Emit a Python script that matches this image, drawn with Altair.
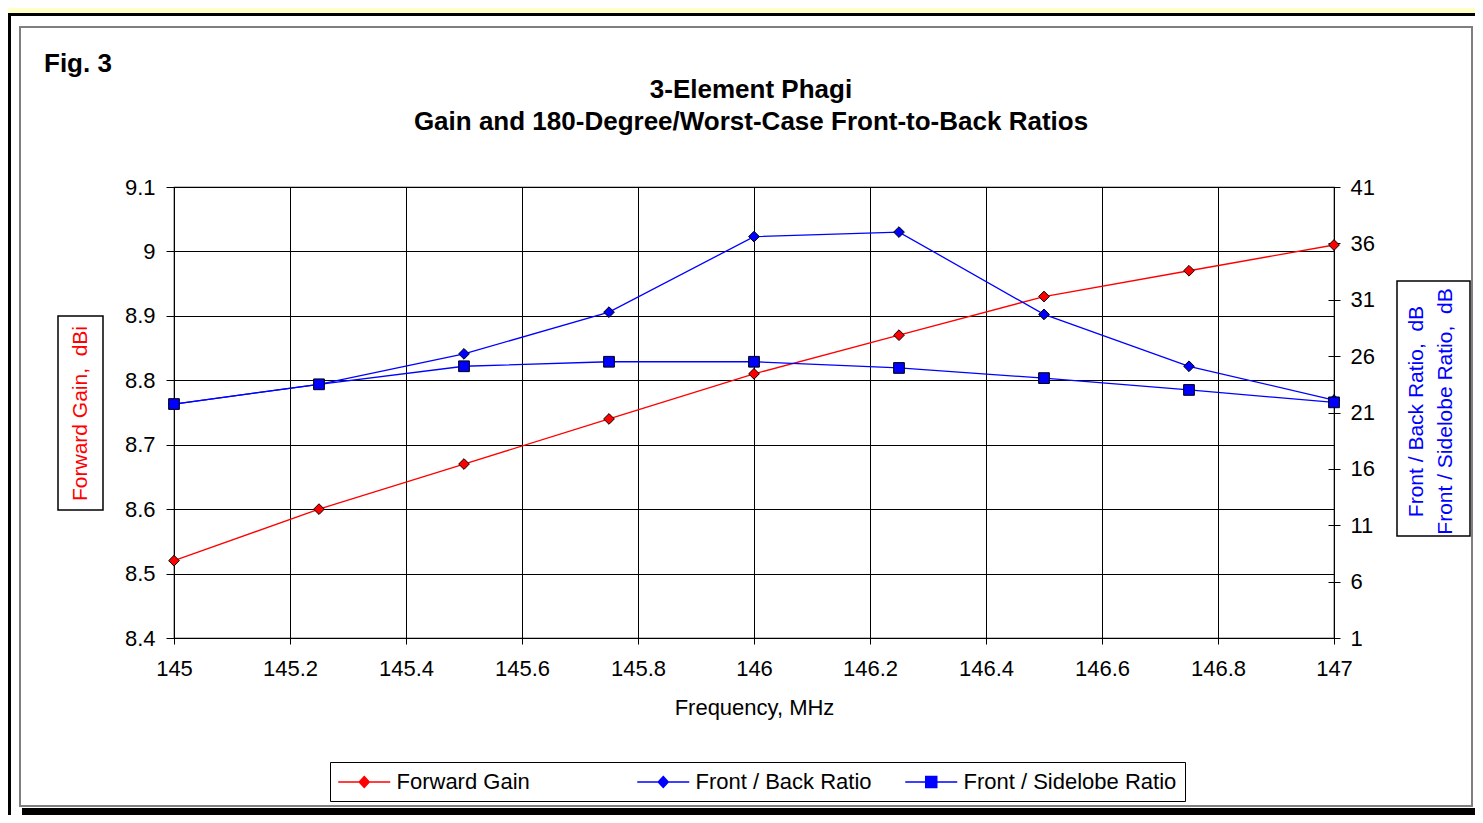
import altair as alt
import pandas as pd

# ---------------- data ----------------
freq = [145.0, 145.25, 145.5, 145.75, 146.0, 146.25, 146.5, 146.75, 147.0]
forward_gain = [8.52, 8.60, 8.67, 8.74, 8.81, 8.87, 8.93, 8.97, 9.01]
front_back = [21.75, 23.5, 26.2, 29.9, 36.6, 37.0, 29.7, 25.1, 22.1]
front_sidelobe = [21.75, 23.5, 25.1, 25.5, 25.5, 24.95, 24.05, 23.0, 21.9]

series_names = ["Forward Gain", "Front / Back Ratio", "Front / Sidelobe Ratio"]
series_colors = ["#FF0000", "#0000FF", "#0000FF"]
series_shapes = ["diamond", "diamond", "square"]

x_ticks = [145.0, 145.2, 145.4, 145.6, 145.8, 146.0, 146.2, 146.4, 146.6, 146.8, 147.0]
gain_ticks = [8.4, 8.5, 8.6, 8.7, 8.8, 8.9, 9.0, 9.1]
ratio_ticks = [1, 6, 11, 16, 21, 26, 31, 36, 41]

title_lines = ["3-Element Phagi", "Gain and 180-Degree/Worst-Case Front-to-Back Ratios"]
fig_label = "Fig. 3"
x_title = "Frequency, MHz"
left_title = "Forward Gain,\u00a0 dBi"
right_title = ["Front / Back Ratio,\u00a0 dB", "Front / Sidelobe Ratio,\u00a0 dB"]

FONT = "Liberation Sans, Arial, sans-serif"

gain_df = pd.DataFrame({"freq": freq, "value": forward_gain, "series": series_names[0]})
ratio_df = pd.concat([
    pd.DataFrame({"freq": freq, "value": front_back, "series": series_names[1]}),
    pd.DataFrame({"freq": freq, "value": front_sidelobe, "series": series_names[2]}),
], ignore_index=True)
one_row = pd.DataFrame({"k": [0]})
legend_df = pd.DataFrame({"series": pd.Series([], dtype="object")})

# ---------------- legend (line + marker symbols) ----------------
DI = "M-1.068,0H3.659M1.295,-0.5L1.75,0L1.295,0.5L0.84,0Z"
SQ = "M-1.068,0H3.659M0.795,-0.5H1.795V0.5H0.795Z"
legend_paths = [DI, DI, SQ]
# first label carries trailing no-break spaces (closed by a zero-width space) for the wider gap
legend_labels = [series_names[0] + "\u00a0" * 12 + "\u200b", series_names[1], series_names[2]]
legend_def = alt.Legend(
    title=None, orient="none", legendX=156, legendY=575, direction="horizontal",
    strokeColor="black", fillColor="white", padding=8,
    symbolSize=484, symbolStrokeWidth=1.5, symbolOpacity=1,
    labelFont=FONT, labelFontSize=22, labelColor="black", labelOffset=34.5, labelLimit=600,
    columnPadding=30,
)
legend_layer = alt.Chart(legend_df).mark_point(filled=True).encode(
    shape=alt.Shape("series:N", scale=alt.Scale(domain=legend_labels, range=legend_paths), legend=legend_def),
    fill=alt.Fill("series:N", scale=alt.Scale(domain=legend_labels, range=series_colors), legend=legend_def),
    stroke=alt.Stroke("series:N", scale=alt.Scale(domain=legend_labels, range=series_colors), legend=legend_def),
)

color_enc = alt.Color("series:N", scale=alt.Scale(domain=series_names, range=series_colors), legend=None)
shape_enc = alt.Shape("series:N", scale=alt.Scale(domain=series_names, range=series_shapes), legend=None)

# ---------------- axes ----------------
x_axis = alt.Axis(values=x_ticks, format="~g", title=x_title, grid=True, gridColor="black",
                  gridWidth=1, tickSize=6, labelPadding=14, titlePadding=18, labelFlush=False,
                  labelFont=FONT, labelFontSize=22, labelColor="black",
                  titleFont=FONT, titleFontSize=22, titleFontWeight="normal", titleColor="black",
                  domainColor="black", tickColor="black")
x_enc = alt.X("freq:Q", scale=alt.Scale(domain=[145, 147], nice=False, zero=False), axis=x_axis)

left_axis = alt.Axis(orient="left", values=gain_ticks, format="~g", title=left_title, grid=True,
                     gridColor="black", gridWidth=1, tickSize=8, labelPadding=11, labelFlush=False,
                     labelFont=FONT, labelFontSize=22, labelColor="black",
                     titleFont=FONT, titleFontSize=21, titleFontWeight="normal", titleColor="#FF0000",
                     titleAngle=270, titleX=-94, titleY=226, titleAlign="center", titleBaseline="middle",
                     domainColor="black", tickColor="black")
right_axis = alt.Axis(orient="right", values=ratio_ticks, format="~g", title=right_title, grid=False,
                      offset=-6, domain=False, tickSize=12, labelPadding=10, labelFlush=False,
                      labelFont=FONT, labelFontSize=22, labelColor="black",
                      titleFont=FONT, titleFontSize=21, titleFontWeight="normal", titleColor="#0000FF",
                      titleAngle=270, titleX=88, titleY=224, titleAlign="center", titleBaseline="middle",
                      titleLineHeight=29, tickColor="black")

gain_y = alt.Y("value:Q", scale=alt.Scale(domain=[8.4, 9.1], nice=False, zero=False), axis=left_axis)
ratio_y = alt.Y("value:Q", scale=alt.Scale(domain=[1, 41], nice=False, zero=False), axis=right_axis)

gain_layer = alt.layer(
    alt.Chart(gain_df).mark_line(strokeWidth=1.3).encode(x=x_enc, y=gain_y, color=color_enc),
    alt.Chart(gain_df).mark_point(filled=True, size=115, stroke="black", strokeWidth=1, opacity=1)
       .encode(x=x_enc, y=gain_y, color=color_enc, shape=shape_enc),
)
ratio_layer = alt.layer(
    alt.Chart(ratio_df).mark_line(strokeWidth=1.3).encode(x=x_enc, y=ratio_y, color=color_enc),
    alt.Chart(ratio_df).mark_point(filled=True, size=115, stroke="black", strokeWidth=1, opacity=1)
       .encode(x=x_enc, y=ratio_y, color=color_enc, shape=shape_enc),
)

# ---------------- decorative frame, titles ----------------
def band(color, x, x2, y, y2):
    return alt.Chart(one_row).mark_rect(color=color).encode(
        x=alt.value(x), x2=alt.value(x2), y=alt.value(y), y2=alt.value(y2))

def box(color, x, x2, y, y2, w):
    return alt.Chart(one_row).mark_rect(filled=False, color=color, strokeWidth=w).encode(
        x=alt.value(x), x2=alt.value(x2), y=alt.value(y), y2=alt.value(y2))

deco = alt.layer(
    band("#FFFFC8", -166, 1301, -179, -174),
    band("black", -166, 1301, -174, -171),
    band("black", -166, -163, -174, 628),
    band("black", -152, 1301, 621, 628),
    box("#7F7F7F", -154, 1298, -160, 619, 2),
    box("black", -116, -71, 129, 323, 1.5),
    box("black", 1223, 1296, 94, 349, 1.5),
    alt.Chart(one_row).mark_text(text=fig_label, font=FONT, fontSize=26, fontWeight="bold",
                                 align="left", baseline="alphabetic", color="black")
       .encode(x=alt.value(-130), y=alt.value(-115)),
    alt.Chart(one_row).mark_text(text=title_lines, font=FONT, fontSize=26, fontWeight="bold",
                                 lineHeight=32, align="center", baseline="alphabetic", color="black")
       .encode(x=alt.value(577), y=alt.value(-89)),
)

chart = alt.layer(deco, gain_layer, ratio_layer, legend_layer).resolve_scale(
    y="independent", shape="independent", fill="independent", stroke="independent"
).properties(
    width=1160, height=451,
    autosize=alt.AutoSizeParams(type="none"),
    padding={"left": 166, "top": 179, "right": 141, "bottom": 177},
    background="white",
).configure_view(stroke="black", strokeWidth=1.2)

chart.save("out.html", embed_options={"renderer": "svg", "actions": False})
